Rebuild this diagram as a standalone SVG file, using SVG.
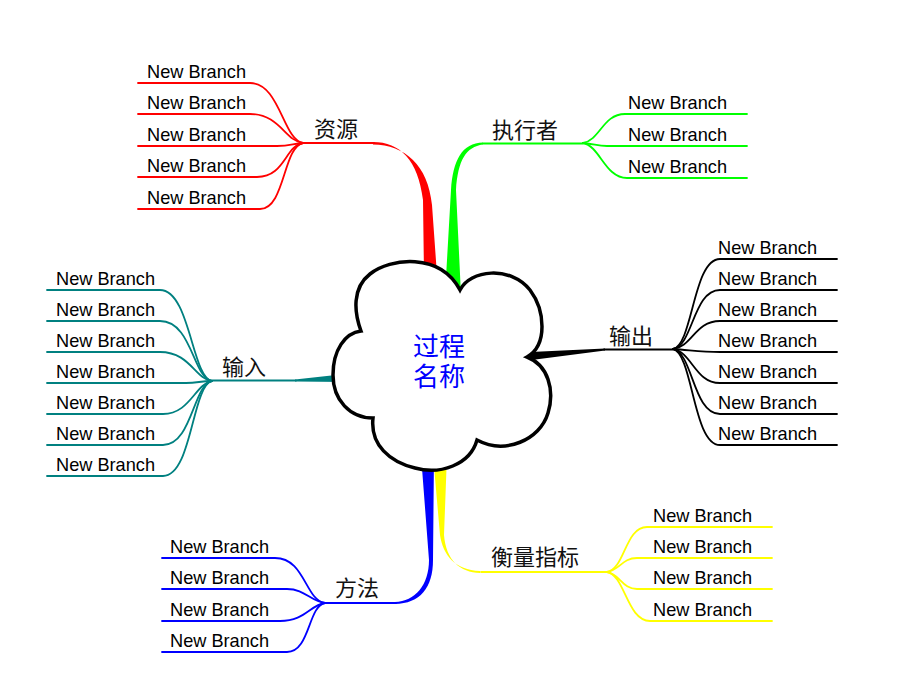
<svg xmlns="http://www.w3.org/2000/svg" width="920" height="690" viewBox="0 0 920 690">
<style>
.leaf{font-family:"Liberation Sans",Arial,sans-serif;font-size:18.2px;fill:#000}
.lbl{font-family:"Noto Sans CJK SC",sans-serif;font-size:22px;fill:#111}
.ctr{font-family:"Noto Sans CJK SC",sans-serif;font-size:26px;fill:#0000ff}
.ln{fill:none;stroke-width:1.8;stroke-linecap:round}
.r{stroke:#ff0000}.g{stroke:#00ff00}.k{stroke:#000}.t{stroke:#008080}.b{stroke:#0000ff}.y{stroke:#ffff00}
</style>
<rect width="920" height="690" fill="#fff"/>
<g id="connectors">
  <!-- trunks -->
  <path d="M373,142 C400,142 418,160 423,200 L424,275 L437,275 L432,205 C428,165 405,145 373,144.5 Z" fill="#ff0000"/>
  <path d="M445,295 L451,190 C453,160 462,143 483,142.5 L483,144.5 C466,147 458,160 456,190 L461,295 Z" fill="#00ff00"/>
  <path d="M520,352.5 L605,348.5 L605,350.5 L520,361.5 Z" fill="#000"/>
  <path d="M345,374 L295,379.5 L295,381.5 L345,382 Z" fill="#008080"/>
  <path d="M421,455 L429,560 C429,585 415,601.5 395,602 L395,604 C420,603.5 433,588 433,560 L434,455 Z" fill="#0000ff"/>
  <path d="M433,455 L440,535 C443,555 455,570 480,571 L480,573 C460,572.5 446,560 444,535 L447,455 Z" fill="#ffff00"/>
  <path class="ln r" d="M303,143 H374" stroke-width="2"/>
  <path class="ln g" d="M483,143.5 H583" stroke-width="2"/>
  <path class="ln k" d="M604,349.5 H673" stroke-width="2.2"/>
  <path class="ln t" d="M296,380.5 H212" stroke-width="2"/>
  <path class="ln b" d="M396,603 H325" stroke-width="2"/>
  <path class="ln y" d="M481,572 H607" stroke-width="2"/>
  <!-- red leaves -->
  <path class="ln r" d="M303,143 C283,140 280,83 250,83 H138"/>
  <path class="ln r" d="M303,143 C285,141 280,114 250,114 H138"/>
  <path class="ln r" d="M303,143 C292,144 290,146 277,146 H138"/>
  <path class="ln r" d="M303,143 C285,146 285,177 257,177 H138"/>
  <path class="ln r" d="M303,143 C283,147 285,209 260,209 H138"/>
  <!-- green leaves -->
  <path class="ln g" d="M583,143 C600,140 603,114 625,114 H747"/>
  <path class="ln g" d="M583,143 C595,144 597,146 607,146 H747"/>
  <path class="ln g" d="M583,143 C600,146 605,178 627,178 H747"/>
  <!-- black leaves -->
  <path class="ln k" d="M673,349 C693,345 693,259 720,259 H837"/>
  <path class="ln k" d="M673,349 C693,346 693,290 720,290 H837"/>
  <path class="ln k" d="M673,349 C692,347 695,321 720,321 H837"/>
  <path class="ln k" d="M673,349 C690,350 700,352 720,352 H837"/>
  <path class="ln k" d="M673,349 C692,352 695,383 720,383 H837"/>
  <path class="ln k" d="M673,349 C693,353 693,414 720,414 H837"/>
  <path class="ln k" d="M673,349 C693,354 693,445 720,445 H837"/>
  <!-- teal leaves -->
  <path class="ln t" d="M212,381 C192,378 190,290 160,290 H47"/>
  <path class="ln t" d="M212,381 C193,378 192,321 160,321 H47"/>
  <path class="ln t" d="M212,381 C195,379 190,352 160,352 H47"/>
  <path class="ln t" d="M212,381 C200,381 198,383 186,383 H47"/>
  <path class="ln t" d="M212,381 C195,384 190,414 163,414 H47"/>
  <path class="ln t" d="M212,381 C193,385 192,445 163,445 H47"/>
  <path class="ln t" d="M212,381 C192,386 192,476 163,476 H47"/>
  <!-- blue leaves -->
  <path class="ln b" d="M325,603 C305,600 305,558 275,558 H162"/>
  <path class="ln b" d="M325,603 C310,601 305,589 287,589 H162"/>
  <path class="ln b" d="M325,603 C310,605 305,621 280,621 H162"/>
  <path class="ln b" d="M325,603 C308,606 310,652 287,652 H162"/>
  <!-- yellow leaves -->
  <path class="ln y" d="M607,572 C625,569 625,527 647,527 H772"/>
  <path class="ln y" d="M607,572 C620,570 622,558 637,558 H772"/>
  <path class="ln y" d="M607,572 C620,574 622,589 637,589 H772"/>
  <path class="ln y" d="M607,572 C625,575 627,621 650,621 H772"/>
</g>
<g id="center">
  <path d="M361,331 C354,312 352,288 370,274 C390,258 440,252 460,290 C470,270 510,265 530,290 C545,310 548,345 527,357 C548,365 555,390 548,413 C540,440 505,455 477,440 C470,465 440,475 415,468 C390,462 370,445 373,418 C350,418 333,400 333,375 C333,350 345,333 361,331 Z" fill="#fff" stroke="#000" stroke-width="3.5" stroke-linejoin="miter"/>
  <text class="ctr" text-anchor="middle"><tspan x="439" y="356">过程</tspan><tspan x="439" y="386">名称</tspan></text>
</g>
<g id="node-ziyuan"><text class="lbl" x="314" y="137">资源</text></g>
<g id="node-zhixingzhe"><text class="lbl" x="492" y="138">执行者</text></g>
<g id="node-shuchu"><text class="lbl" x="609" y="344">输出</text></g>
<g id="node-shuru"><text class="lbl" x="222" y="375">输入</text></g>
<g id="node-fangfa"><text class="lbl" x="335" y="596">方法</text></g>
<g id="node-hengliang"><text class="lbl" x="491" y="565">衡量指标</text></g>
<g id="leaves-ziyuan">
  <text class="leaf" x="147" y="78">New Branch</text>
  <text class="leaf" x="147" y="109">New Branch</text>
  <text class="leaf" x="147" y="141">New Branch</text>
  <text class="leaf" x="147" y="172">New Branch</text>
  <text class="leaf" x="147" y="204">New Branch</text>
</g>
<g id="leaves-zhixingzhe">
  <text class="leaf" x="628" y="109">New Branch</text>
  <text class="leaf" x="628" y="141">New Branch</text>
  <text class="leaf" x="628" y="173">New Branch</text>
</g>
<g id="leaves-shuchu">
  <text class="leaf" x="718" y="254">New Branch</text>
  <text class="leaf" x="718" y="285">New Branch</text>
  <text class="leaf" x="718" y="316">New Branch</text>
  <text class="leaf" x="718" y="347">New Branch</text>
  <text class="leaf" x="718" y="378">New Branch</text>
  <text class="leaf" x="718" y="409">New Branch</text>
  <text class="leaf" x="718" y="440">New Branch</text>
</g>
<g id="leaves-shuru">
  <text class="leaf" x="56" y="285">New Branch</text>
  <text class="leaf" x="56" y="316">New Branch</text>
  <text class="leaf" x="56" y="347">New Branch</text>
  <text class="leaf" x="56" y="378">New Branch</text>
  <text class="leaf" x="56" y="409">New Branch</text>
  <text class="leaf" x="56" y="440">New Branch</text>
  <text class="leaf" x="56" y="471">New Branch</text>
</g>
<g id="leaves-fangfa">
  <text class="leaf" x="170" y="553">New Branch</text>
  <text class="leaf" x="170" y="584">New Branch</text>
  <text class="leaf" x="170" y="616">New Branch</text>
  <text class="leaf" x="170" y="647">New Branch</text>
</g>
<g id="leaves-hengliang">
  <text class="leaf" x="653" y="522">New Branch</text>
  <text class="leaf" x="653" y="553">New Branch</text>
  <text class="leaf" x="653" y="584">New Branch</text>
  <text class="leaf" x="653" y="616">New Branch</text>
</g>
</svg>
